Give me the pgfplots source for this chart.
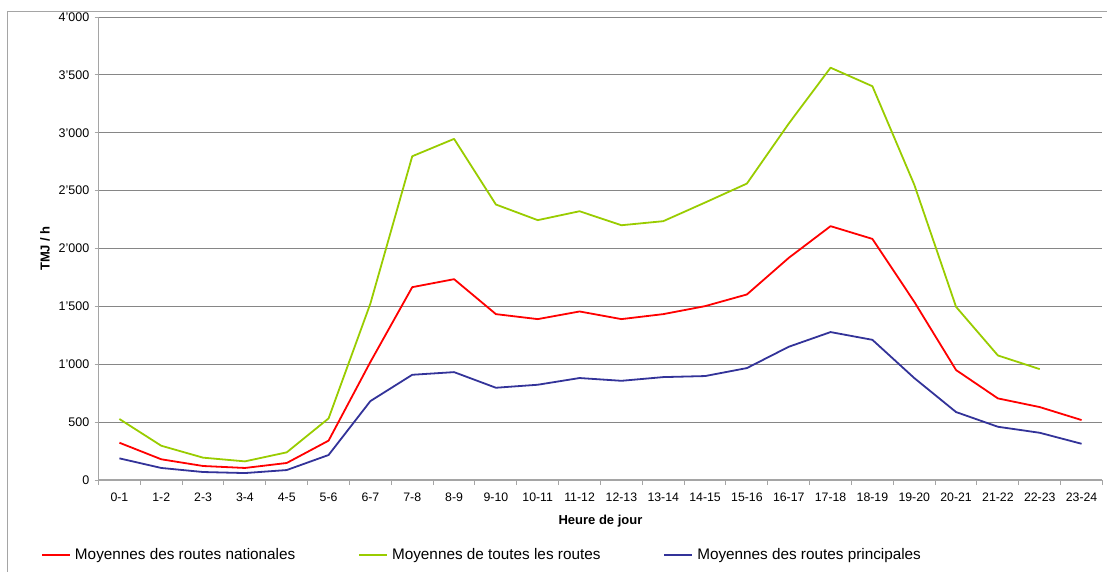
\documentclass[border=0pt]{standalone}
\usepackage{fontspec}
\setmainfont{Liberation Sans}
\usepackage{pgfplots}
\pgfplotsset{compat=1.18}
\definecolor{cred}{RGB}{255,0,0}
\definecolor{cgreen}{RGB}{153,204,0}
\definecolor{cblue}{RGB}{51,51,153}
\definecolor{gridgray}{RGB}{134,134,134}
\definecolor{axisgray}{RGB}{165,165,165}
\begin{document}
\begin{tikzpicture}[x=1pt,y=1pt]
\useasboundingbox (0,0) rectangle (1107,571);
\draw[axisgray, line width=1pt] (7.3,-20) rectangle (1140,559.3);
\begin{axis}[
  at={(98.5pt,91pt)}, anchor=south west,
  scale only axis, width=1004pt, height=463pt,
  xmin=-0.5, xmax=23.5, ymin=0, ymax=4000,
  axis lines=left,
  axis line style={-, draw=axisgray, line width=1.2pt},
  tick align=outside,
  xtick={0,...,23},
  xticklabels={0-1,1-2,2-3,3-4,4-5,5-6,6-7,7-8,8-9,9-10,10-11,11-12,12-13,13-14,14-15,15-16,16-17,17-18,18-19,19-20,20-21,21-22,22-23,23-24},
  minor xtick={-0.5,0.5,...,23.5},
  every major x tick/.append style={draw=none},
  every minor x tick/.append style={draw=axisgray, line width=1pt},
  minor tick length=5pt,
  major tick length=4pt,
  ytick={0,500,...,4000},
  every major y tick/.append style={draw=axisgray, line width=1pt},
  ymajorgrids,
  grid style={draw=gridgray, line width=0.8pt},
  /pgf/number format/1000 sep={'},
  /pgf/number format/assume math mode=true,
  yticklabel style={font=\fontsize{12.5}{14}\selectfont, anchor=east, inner sep=0pt, xshift=-5pt},
  xticklabel style={font=\fontsize{12.3}{14}\selectfont, anchor=north, inner sep=0pt, yshift=-9pt},
  every axis x label/.style={at={(axis description cs:0.5,-0.0879)}, anchor=center, font=\fontsize{13}{15}\selectfont\bfseries},
  every axis y label/.style={at={(axis description cs:-0.0533,0.5)}, rotate=90, anchor=center, font=\fontsize{13}{15}\selectfont\bfseries},
  xlabel={Heure de jour},
  ylabel={TMJ / h},
  legend columns=3,
  legend style={at={(axis description cs:0,0)}, anchor=west, xshift=-57.5pt, yshift=-75pt,
    draw=none, fill=none, inner sep=0pt,
    font=\fontsize{15.3}{17}\selectfont,
    nodes={inner sep=0pt, anchor=west},
    /tikz/every odd column/.append style={column sep=4pt},
    /tikz/every even column/.append style={column sep=63pt}},
  legend image code/.code={\draw[#1] (0pt,0pt) -- (28pt,0pt);},
  line join=round,
]
\addplot[cred, line width=1.8pt] coordinates {
(0,322) (1,179) (2,121) (3,104) (4,147) (5,340) (6,1020) (7,1666) (8,1735) (9,1433) (10,1390) (11,1456) (12,1390) (13,1433) (14,1502) (15,1603) (16,1919) (17,2193) (18,2083) (19,1540) (20,950) (21,705) (22,630) (23,518)};
\addlegendentry{Moyennes des routes nationales}
\addplot[cgreen, line width=1.8pt] coordinates {
(0,527) (1,296) (2,193) (3,161) (4,239) (5,532) (6,1525) (7,2797) (8,2947) (9,2380) (10,2245) (11,2322) (12,2201) (13,2236) (14,2397) (15,2561) (16,3079) (17,3562) (18,3402) (19,2552) (20,1496) (21,1076) (22,958)};
\addlegendentry{Moyennes de toutes les routes}
\addplot[cblue, line width=1.8pt] coordinates {
(0,187) (1,104) (2,69) (3,60) (4,86) (5,216) (6,682) (7,909) (8,932) (9,797) (10,823) (11,881) (12,857) (13,889) (14,898) (15,967) (16,1151) (17,1278) (18,1211) (19,881) (20,587) (21,460) (22,408) (23,313)};
\addlegendentry{Moyennes des routes principales}
\end{axis}
\end{tikzpicture}
\end{document}
